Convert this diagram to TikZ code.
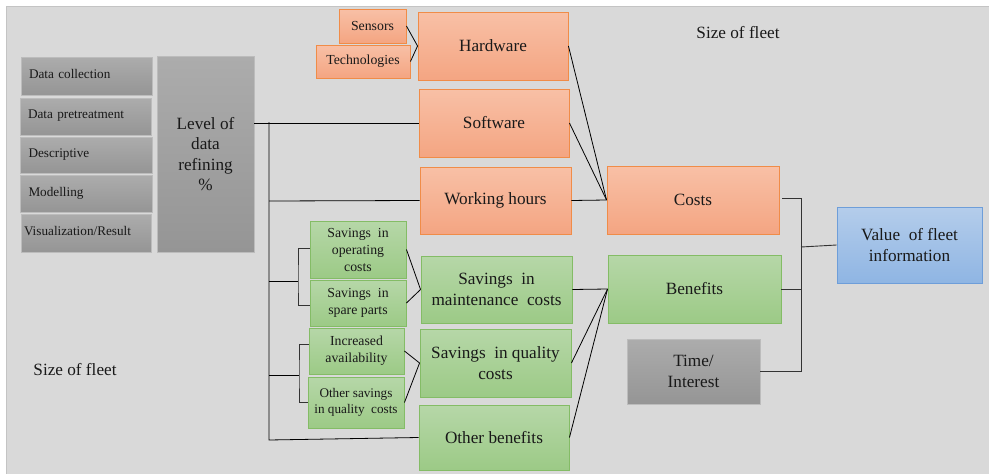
\documentclass[tikz,border=0pt]{standalone}
\usepackage{fontspec}
\setmainfont{Liberation Serif}
\begin{document}
\begin{tikzpicture}[x=1pt,y=-1pt,
  every node/.style={inner sep=2pt, text=black!90},
  box/.style={rectangle, line width=0.9pt, align=center},
  orangebox/.style={box, draw=obrd, top color=otop, bottom color=obot},
  greenbox/.style={box, draw=gbrd, top color=gtop, bottom color=gbot},
  bluebox/.style={box, draw=bbrd, top color=btop, bottom color=bbot},
  graybox/.style={box, draw=gybrd, top color=gytop, bottom color=gybot},
  stagebox/.style={graybox, align=left, text width=115pt, inner xsep=8pt},
  big/.style={font=\fontsize{17.2}{20.5}\selectfont},
  mid/.style={font=\fontsize{13.8}{17}\selectfont},
  small/.style={font=\fontsize{13.2}{16.5}\selectfont},
  link/.style={draw=black, line width=0.8pt},
  bracket/.style={draw=black!80, line width=0.9pt}
]
\definecolor{otop}{HTML}{F8C0A6}\definecolor{obot}{HTML}{F4A582}\definecolor{obrd}{HTML}{F08C48}
\definecolor{gtop}{HTML}{B6D7A8}\definecolor{gbot}{HTML}{9CCA86}\definecolor{gbrd}{HTML}{84BC66}
\definecolor{btop}{HTML}{B4CDEB}\definecolor{bbot}{HTML}{8FB5E3}\definecolor{bbrd}{HTML}{6E9ED9}
\definecolor{gytop}{HTML}{ACACAC}\definecolor{gybot}{HTML}{959595}\definecolor{gybrd}{HTML}{BCBCBC}
\definecolor{panel}{HTML}{D9D9D9}\definecolor{panelrim}{HTML}{C4C4C4}

% canvas and panel
\useasboundingbox (0,0) rectangle (989,474);
\fill[white] (0,0) rectangle (989,474);
\fill[panel] (7,7) rectangle (989,474);
\draw[panelrim, line width=1.2pt] (6.5,474) -- (6.5,6.5) -- (989,6.5);

% stages of data refining
\node[stagebox, small, minimum width=131pt, minimum height=38pt] (dc) at (86.5,76) {\raisebox{4pt}{Data collection}};
\node[stagebox, small, minimum width=131pt, minimum height=37pt] (dp) at (85.5,116.5) {\raisebox{4pt}{Data pretreatment}};
\node[stagebox, small, minimum width=132pt, minimum height=36pt] (de) at (86,155) {\raisebox{4pt}{Descriptive}};
\node[stagebox, small, minimum width=132pt, minimum height=37pt] (mo) at (86,193.5) {\raisebox{4pt}{Modelling}};
\node[stagebox, small, minimum width=130pt, minimum height=38pt, text width=124pt, inner xsep=3pt] (vi) at (86,233) {\raisebox{4pt}{Visualization/Result}};
\node[graybox, big, minimum width=97pt, minimum height=196pt] (lvl) at (205.5,154) {Level of\\data\\refining\\\%};

% cost side
\node[orangebox, mid, minimum width=67pt, minimum height=34pt] (sen) at (372.5,26) {Sensors};
\node[orangebox, mid, minimum width=94pt, minimum height=33pt] (tec) at (363,61.5) {Technologies};
\node[orangebox, big, minimum width=150pt, minimum height=68pt] (hw) at (493,46) {Hardware};
\node[orangebox, big, minimum width=150pt, minimum height=68pt] (sw) at (494,123) {Software};
\node[orangebox, big, minimum width=151pt, minimum height=67pt] (wh) at (495.5,200.5) {Working hours};
\node[orangebox, big, minimum width=172pt, minimum height=68pt] (co) at (693,200) {Costs};

% benefit side
\node[greenbox, mid, minimum width=96pt, minimum height=57pt] (so) at (358,249.5) {Savings~~in\\operating\\costs};
\node[greenbox, mid, minimum width=96pt, minimum height=46pt] (sp) at (358,303) {Savings~~in\\spare parts};
\node[greenbox, mid, minimum width=95pt, minimum height=46pt] (ia) at (356.5,351) {Increased\\availability};
\node[greenbox, small, minimum width=96pt, minimum height=51pt] (os) at (356,402.5) {Other savings\\in quality~~costs};
\node[greenbox, big, minimum width=151pt, minimum height=67pt] (sm) at (496.5,289.5) {Savings~~in\\maintenance~~costs};
\node[greenbox, big, minimum width=151pt, minimum height=68pt] (sq) at (495.5,363) {Savings~~in quality\\costs};
\node[greenbox, big, minimum width=150pt, minimum height=65pt] (ob) at (494,437.5) {Other benefits};
\node[greenbox, big, minimum width=173pt, minimum height=68pt] (be) at (694.5,289) {Benefits};

% time and result
\node[graybox, big, minimum width=133pt, minimum height=65pt] (ti) at (693.5,371.5) {Time/\\Interest};
\node[bluebox, big, minimum width=145pt, minimum height=76pt] (va) at (909.5,245) {Value~~of fleet\\information};

% free labels
\node[big] (sz1) at (738,33) {Size of fleet};
\node[big] (sz2) at (75,370) {Size of fleet};

% trunk from the refining level
\coordinate (t1) at (269,122);
\coordinate (t2) at (269,201);
\coordinate (t3) at (269,281);
\coordinate (t4) at (269,375);
\coordinate (t5) at (269,440);
\coordinate (b1) at (298,281);
\coordinate (b2) at (299,375);
\draw[link] (lvl.east |- sw.west) -- (sw.west);
\draw[link] (t1) -- (t5) -- (ob.west);
\draw[link] (t2) -- (wh.west);
\draw[link] (t3) -- (b1);
\draw[link] (t4) -- (b2);
\draw[bracket] ([yshift=1.5pt]so.west) -| (b1) |- ([yshift=-2pt]sp.west);
\draw[bracket] ([yshift=7pt]ia.west) -| (b2) |- (os.west);

% converging links
\draw[link] (sen.east) -- (hw.west);
\draw[link] (tec.east) -- (hw.west);
\draw[link] (hw.east) -- (co.west);
\draw[link] (sw.east) -- (co.west);
\draw[link] (wh.east) -- (co.west);
\draw[link] (so.east) -- (sm.west);
\draw[link] (sp.east) -- (sm.west);
\draw[link] (ia.east) -- (sq.west);
\draw[link] (os.east) -- (sq.west);
\draw[link] (sm.east) -- (be.west);
\draw[link] (sq.east) -- (be.west);
\draw[link] (ob.east) -- (be.west);

% joining costs, benefits and time
\coordinate (r) at (801,247);
\draw[bracket] ([xshift=3pt,yshift=2pt]co.east) -| (r);
\draw[bracket] (be.east) -| (r);
\draw[bracket] (ti.east) -| (r);
\draw[bracket] (r) -- (va.west);
\end{tikzpicture}
\end{document}
